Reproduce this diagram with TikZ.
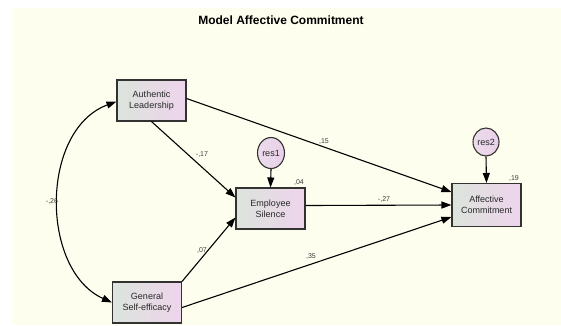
\documentclass[tikz,border=0pt]{standalone}
\usepackage{fontspec}
\setmainfont{Liberation Sans}
\usetikzlibrary{arrows.meta,shapes.geometric,calc}
\definecolor{bgcream}{RGB}{254,254,238}
\definecolor{boxL}{RGB}{220,228,220}
\definecolor{boxR}{RGB}{238,212,236}
\definecolor{resL}{RGB}{236,220,236}
\definecolor{resR}{RGB}{232,208,232}
\definecolor{boxline}{RGB}{50,50,50}
\definecolor{txt}{RGB}{40,40,40}
\definecolor{lbl}{RGB}{60,60,60}
\begin{document}
\begin{tikzpicture}[x=1pt,y=-1pt,
  varbox/.style={draw=boxline, line width=1.1pt, left color=boxL, right color=boxR,
    minimum width=69pt, minimum height=41pt, inner sep=0pt, align=center,
    font=\fontsize{9}{11}\selectfont, text=txt},
  resnode/.style={ellipse, draw=boxline, line width=1.1pt, left color=resL, right color=resR,
    inner sep=0pt, font=\fontsize{9}{11}\selectfont, text=txt},
  regarrow/.style={-{Triangle[length=10pt,width=7pt]}, line width=1.1pt, draw=black},
  coef/.style={font=\fontsize{7}{8}\selectfont, text=lbl, inner sep=0pt}]
\useasboundingbox (0,0) rectangle (561,325);
\fill[white] (0,0) rectangle (561,325);
\fill[bgcream] (12,8) rectangle (561,325);
\node[font=\bfseries\fontsize{12}{14}\selectfont] (title) at (281,20) {Model Affective Commitment};
\node[varbox] (AL) at (151.5,100.5) {Authentic\\Leadership};
\node[varbox] (ES) at (270.5,208.5) {Employee\\Silence};
\node[varbox, minimum height=43pt] (AC) at (486.5,205) {Affective\\Commitment};
\node[varbox] (GS) at (147,302.5) {General\\Self-efficacy};
\node[resnode, minimum width=27pt, minimum height=31pt] (r1) at (271,153) {res1};
\node[resnode, minimum width=26pt, minimum height=28pt] (r2) at (486,142) {res2};
% paths
\draw[regarrow] (AL.south) -- ($(ES.west)+(0,-11)$);
\draw[regarrow] (GS.north east) -- ($(ES.west)+(0,9)$);
\draw[regarrow] ($(ES.east)+(0,-3)$) -- (AC.west);
\draw[regarrow] ($(AL.east)+(0,-2)$) -- ($(AC.west)+(0,-13)$);
\draw[regarrow] ($(GS.east)+(0,5)$) -- ($(AC.west)+(0,12)$);
\draw[regarrow] (r1.south) -- (ES.north);
\draw[regarrow] (r2.south) -- (AC.north);
\draw[{Triangle[length=10pt,width=7pt]}-{Triangle[length=10pt,width=7pt]}, line width=1.1pt]
  ($(AL.west)+(0,1)$) .. controls (40,130) and (40,270) .. (GS.west);
% coefficients
\node[coef] (c04) at (299,182) {,04};
\node[coef] (c19) at (514,178) {,19};
\node[coef] (c17) at (202,155) {-,17};
\node[coef] (c07) at (202,250) {,07};
\node[coef] (c26) at (52,201) {-,26};
\node[coef] (c15) at (324,142) {,15};
\node[coef] (c27) at (384,199) {-,27};
\node[coef] (c35) at (311,256) {,35};
\end{tikzpicture}
\end{document}
